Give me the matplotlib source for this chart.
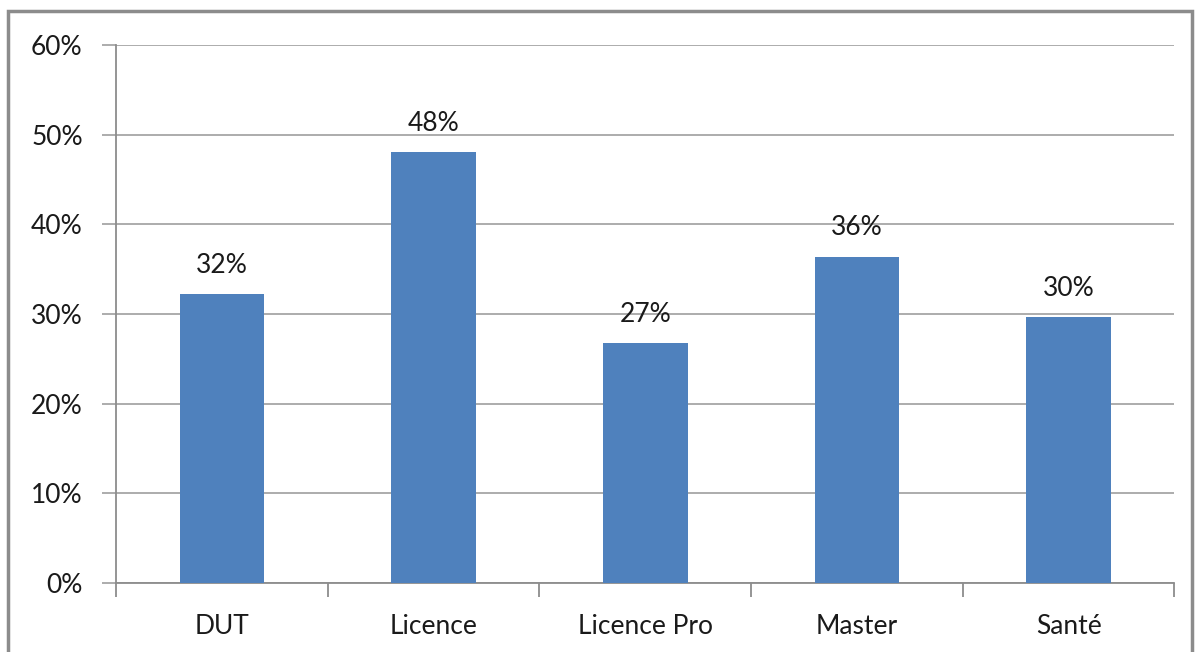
import matplotlib.pyplot as plt
from matplotlib.patches import Rectangle
from matplotlib.ticker import FuncFormatter, MultipleLocator

categories = ['DUT', 'Licence', 'Licence Pro', 'Master', 'Santé']
values = [32.2, 48.1, 26.8, 36.4, 29.7]
labels = ['32%', '48%', '27%', '36%', '30%']

plt.rcParams['font.family'] = ['Lato', 'DejaVu Sans']

fig = plt.figure(figsize=(12, 6.52), dpi=100)
ax = fig.add_axes([0.0967, 0.1058, 0.882, 0.8252])

# outer chart frame
fig.patches.append(Rectangle((0.007, -0.05), 0.986, 1.033, transform=fig.transFigure,
                             fill=False, edgecolor='#8c8c8c', linewidth=2.5))

x = list(range(len(categories)))
ax.bar(x, values, width=0.4, color='#4F81BD', zorder=3)

for xi, v, lab in zip(x, values, labels):
    ax.text(xi, v + 1.8, lab, ha='center', va='bottom', fontsize=19, color='#1a1a1a')

ax.set_xlim(-0.5, len(categories) - 0.5)
ax.set_ylim(0, 60)
ax.yaxis.set_major_locator(MultipleLocator(10))
ax.yaxis.set_major_formatter(FuncFormatter(lambda v, p: f'{v:.0f}%'))
ax.grid(axis='y', color='#a6a6a6', linewidth=1.3, zorder=0)

# category labels centered, ticks on boundaries
ax.set_xticks(x)
ax.set_xticklabels(categories, fontsize=19, color='#1a1a1a')
ax.tick_params(axis='x', length=0, pad=22)
ax.set_xticks([i - 0.5 for i in range(len(categories) + 1)], minor=True)
ax.tick_params(axis='x', which='minor', length=10, width=1.3, color='#8c8c8c', direction='out')
ax.tick_params(axis='y', length=10, width=1.3, color='#a6a6a6', labelsize=19,
               labelcolor='#1a1a1a', pad=14)

for side in ['top', 'right']:
    ax.spines[side].set_visible(False)
for side in ['left', 'bottom']:
    ax.spines[side].set_color('#8c8c8c')
    ax.spines[side].set_linewidth(1.3)

fig.savefig('out.png', dpi=100)
